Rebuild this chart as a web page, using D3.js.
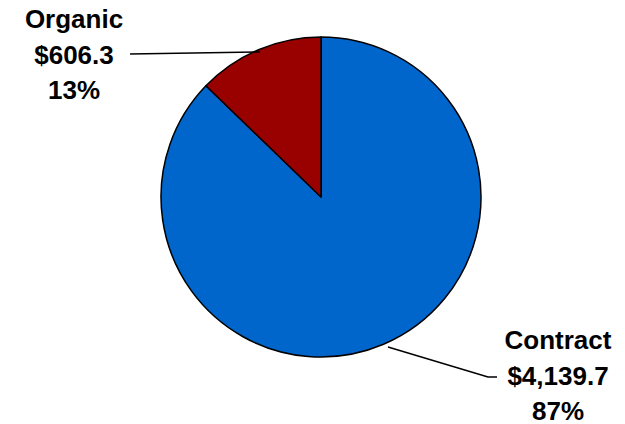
<!DOCTYPE html>
<html>
<head>
<meta charset="utf-8">
<script src="https://cdn.jsdelivr.net/npm/d3@7"></script>
<style>
  body { margin: 0; background: #fff; }
  text { font-family: "Liberation Sans", Arial, sans-serif; font-weight: bold; fill: #000; }
</style>
</head>
<body>
<div id="chart"></div>
<script>
// chart values
names = ["Contract", "Organic"];
amounts = [4139.7, 606.3];
amountLabels = ["$4,139.7", "$606.3"];
percentLabels = ["87%", "13%"];
colors = ["#0066cc", "#990000"];

width = 625;
height = 424;
cx = 321;
cy = 197;
radius = 160;

let svg = d3.select("#chart").append("svg")
  .attr("width", width)
  .attr("height", height);

let pie = d3.pie().sort(null).value(d => d.value);
let arc = d3.arc().innerRadius(0).outerRadius(radius);

let data = names.map((n, i) => ({
  name: n,
  value: amounts[i],
  amount: amountLabels[i],
  pct: percentLabels[i],
  color: colors[i]
}));

let g = svg.append("g")
  .attr("transform", "translate(" + cx + "," + cy + ")");

g.selectAll("path.slice")
  .data(pie(data))
  .enter().append("path")
  .attr("class", "slice")
  .attr("d", arc)
  .attr("fill", d => d.data.color)
  .attr("stroke", "#000")
  .attr("stroke-width", 1.5)
  .attr("stroke-linejoin", "round");

// label placement (leader end points in page coords)
let labelPos = {
  Contract: { x: 558, y: 349, line: [[388, 347], [488, 377], [497, 377]] },
  Organic: { x: 74, y: 28, line: [[130, 54], [260, 52]] }
};

let lineGen = d3.line();

data.forEach(function(d) {
  let p = labelPos[d.name];
  svg.append("path")
    .attr("d", lineGen(p.line))
    .attr("fill", "none")
    .attr("stroke", "#000")
    .attr("stroke-width", 1.5);

  let t = svg.append("text")
    .attr("text-anchor", "middle")
    .style("font-size", "26px");
  [d.name, d.amount, d.pct].forEach(function(s, i) {
    t.append("tspan")
      .attr("x", p.x)
      .attr("y", p.y + i * 35.5)
      .text(s);
  });
});
</script>
</body>
</html>
